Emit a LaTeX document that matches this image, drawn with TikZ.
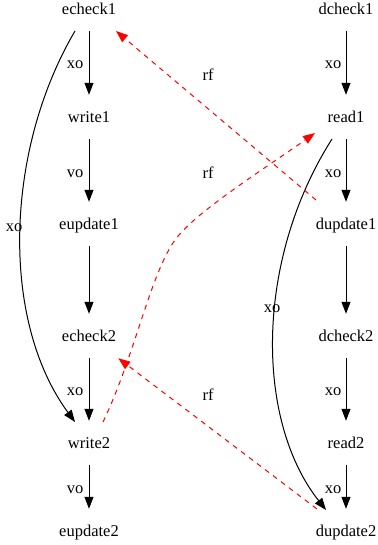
\documentclass[tikz,border=0pt]{standalone}
\usepackage{fontspec}
\setmainfont{Liberation Serif}
\usetikzlibrary{arrows.meta}
\tikzset{
  gnode/.style={rectangle, inner sep=0pt, minimum width=64pt, minimum height=44pt,
    text height=11.5pt, text depth=0pt, font=\fontsize{16.5}{18}\selectfont},
  elabel/.style={inner sep=0pt, text height=11.5pt, text depth=0pt, font=\fontsize{16.5}{18}\selectfont},
  xoedge/.style={draw=black, line width=1pt, -{Triangle[length=12pt,width=9pt]}},
  rfedge/.style={draw=red, line width=1pt, dash pattern=on 5pt off 5pt, -{Triangle[length=12pt,width=9pt]}, color=red}
}
\begin{document}
\begin{tikzpicture}[x=1pt,y=-1pt]
\useasboundingbox (0,0) rectangle (377,545);
% left column
\node[gnode] (echeck1) at (89,9) {echeck1};
\node[gnode] (write1) at (89,117) {write1};
\node[gnode] (eupdate1) at (89,224) {eupdate1};
\node[gnode] (echeck2) at (89,336) {echeck2};
\node[gnode] (write2) at (89,443) {write2};
\node[gnode] (eupdate2) at (89,531) {eupdate2};
% right column
\node[gnode] (dcheck1) at (346,9) {dcheck1};
\node[gnode] (read1) at (346,117) {read1};
\node[gnode] (dupdate1) at (346,224) {dupdate1};
\node[gnode] (dcheck2) at (346,336) {dcheck2};
\node[gnode] (read2) at (346,443) {read2};
\node[gnode] (dupdate2) at (346,531) {dupdate2};
% vertical edges
\draw[xoedge] (echeck1) -- (write1);
\draw[xoedge] (write1) -- (eupdate1);
\draw[xoedge] (eupdate1) -- (echeck2);
\draw[xoedge] (echeck2) -- (write2);
\draw[xoedge] (write2) -- (eupdate2);
\draw[xoedge] (dcheck1) -- (read1);
\draw[xoedge] (read1) -- (dupdate1);
\draw[xoedge] (dupdate1) -- (dcheck2);
\draw[xoedge] (dcheck2) -- (read2);
\draw[xoedge] (read2) -- (dupdate2);
% labels of vertical edges
\node[elabel] (l1) at (75,63) {xo};
\node[elabel] (l2) at (75,172) {vo};
\node[elabel] (l3) at (75,390) {xo};
\node[elabel] (l4) at (75,488) {vo};
\node[elabel] (r1) at (333,63) {xo};
\node[elabel] (r2) at (333,172) {xo};
\node[elabel] (r3) at (333,390) {xo};
\node[elabel] (r4) at (333,488) {xo};
% curved xo edges
\draw[xoedge] ([shift={(-14pt,-22pt)}]echeck1.center) .. controls (5,150) and (0,320) .. ([shift={(-14pt,21pt)}]write2.center);
\node[elabel] (lc) at (14,226) {xo};
\draw[xoedge] ([shift={(-14pt,-22pt)}]read1.center) .. controls (255,260) and (255,420) .. ([shift={(-20pt,21pt)}]dupdate2.center);
\node[elabel] (rc) at (272,307) {xo};
% rf edges
\draw[rfedge] ([shift={(-30pt,24pt)}]dupdate1.center) -- ([shift={(27pt,-22pt)}]echeck1.center);
\node[elabel] (rf1) at (208,75) {rf};
\draw[rfedge] ([shift={(14pt,21pt)}]write2.center) .. controls (135,355) and (150,275) .. (175,240) .. controls (195,212) and (270,165) .. ([shift={(-31pt,-16pt)}]read1.center);
\node[elabel] (rf2) at (208,173) {rf};
\draw[rfedge] (dupdate2) -- (echeck2);
\node[elabel] (rf3) at (208,395) {rf};
\end{tikzpicture}
\end{document}
